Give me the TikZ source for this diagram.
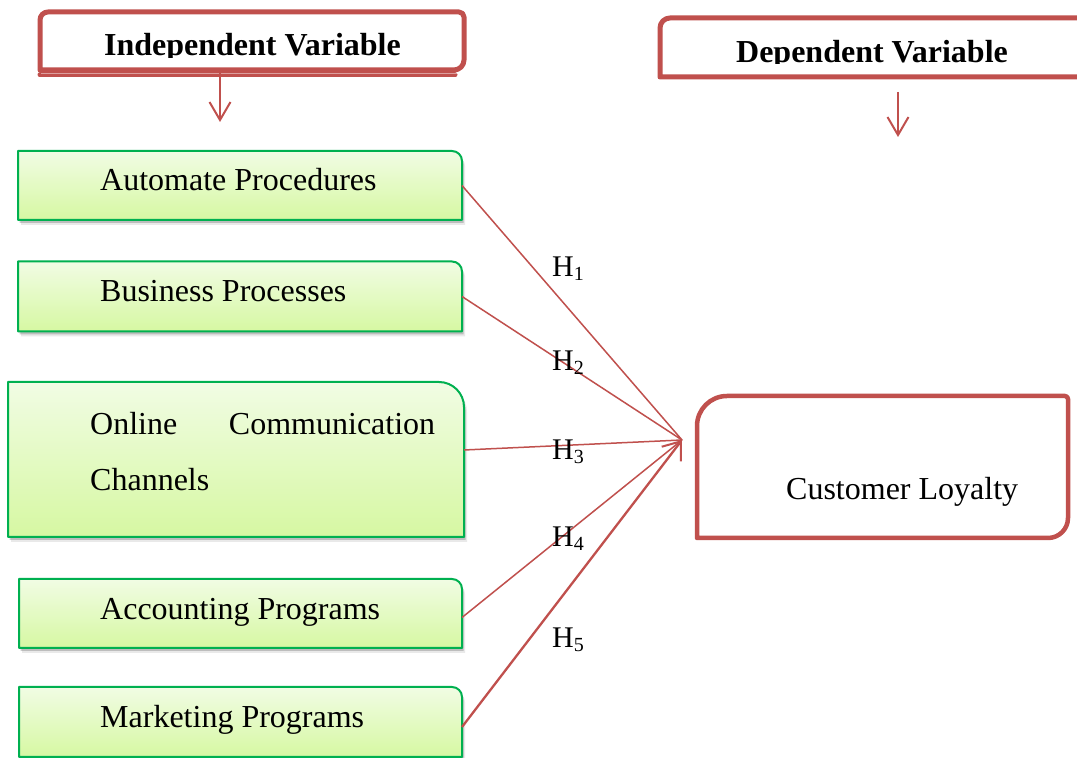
\documentclass[tikz,border=0pt]{standalone}
\usepackage{fontspec}
\setmainfont{Liberation Serif}
\usetikzlibrary{arrows.meta,shadows,calc}

\definecolor{accentred}{HTML}{C0504D}
\definecolor{boxgreen}{HTML}{00B050}
\definecolor{greentop}{HTML}{F1FCE4}
\definecolor{greenbot}{HTML}{D6F8A2}

\tikzset{
  frame/.style={rectangle, draw=none, inner sep=0pt, outer sep=0pt},
  greenfill/.style={draw=boxgreen, line width=2pt, line join=round,
    top color=greentop, bottom color=greenbot,
    drop shadow={shadow xshift=1.5pt, shadow yshift=-3pt, opacity=0.28, fill=black!70},
    drop shadow={shadow xshift=3pt, shadow yshift=-5pt, opacity=0.12, fill=black!70}},
  redframe/.style={draw=accentred, line width=5pt, line join=round},
  itemtext/.style={inner sep=0pt, font=\fontsize{32}{56}\selectfont},
  headtext/.style={inner sep=0pt, font=\fontsize{32}{38}\selectfont\bfseries},
  hyplabel/.style={inner sep=0pt, anchor=base west, font=\fontsize{30}{36}\selectfont},
  link/.style={draw=accentred, line width=1.5pt},
  hdrarrow/.style={draw=accentred, line width=2pt,
    -{Straight Barb[length=18pt, width=21pt, line width=2pt]}},
}

% green item box: square corners except a rounded top-right corner
\newcommand\greenframe[2]{%
  \path[greenfill] let \p1=(#1.south west), \p2=(#1.north east) in
    (\x1,\y1) -- (\x1,\y2) -- ({\x2-#2pt},\y2)
    arc[start angle=90, end angle=0, radius=#2pt] -- (\x2,\y1) -- cycle;}

% hypothesis label with a lowered index
\newcommand\hyp[1]{H\raisebox{-0.12em}{\fontsize{20}{24}\selectfont #1}}

\begin{document}
\begin{tikzpicture}[x=1pt, y=1pt]
\useasboundingbox (0,0) rectangle (1077,758);
\fill[white] (0,0) rectangle (1077,758);
\clip (0,0) rectangle (1077,758);

% ---- box geometry ----
\node[frame, minimum width=424pt, minimum height=58pt] (iv) at (252,717) {};
\node[frame, minimum width=440pt, minimum height=59pt] (dv) at (880,710.5) {};
\node[frame, minimum width=444pt, minimum height=69pt] (b1) at (240,572.5) {};
\node[frame, minimum width=444pt, minimum height=70pt] (b2) at (240,461.5) {};
\node[frame, minimum width=456pt, minimum height=155pt] (b3) at (236,298.5) {};
\node[frame, minimum width=443pt, minimum height=69pt] (b4) at (240.5,144.5) {};
\node[frame, minimum width=443pt, minimum height=70pt] (b5) at (240.5,36) {};
\node[frame, minimum width=371pt, minimum height=142pt] (cl) at (882.5,291) {};

% ---- heading frames ----
\path[redframe] let \p1=(iv.south west), \p2=(iv.north east) in
  (\x1,\y1) -- ({\x1},{\y2-8pt}) arc[start angle=180, end angle=90, radius=8pt]
  -- ({\x2-5pt},\y2) arc[start angle=90, end angle=0, radius=5pt]
  -- ({\x2},{\y1+10pt}) arc[start angle=0, end angle=-90, radius=10pt] -- cycle;
\draw[accentred, line width=5pt, line cap=round]
  ($(iv.south west)+(0,-5)$) -- ($(iv.south east)+(-9,-5)$);
\draw[white, opacity=0.45, line width=0.8pt]
  ($(iv.south west)+(1,-3)$) -- ($(iv.south east)+(-6,-3)$);

\path[redframe] let \p1=(dv.south west), \p2=(dv.north east) in
  (\x2,\y2) -- ({\x1+10pt},\y2) arc[start angle=90, end angle=180, radius=10pt]
  -- (\x1,\y1) -- (\x2,\y1);

% ---- item boxes ----
\greenframe{b1}{10}
\greenframe{b2}{10}
\greenframe{b3}{25}
\greenframe{b4}{10}
\greenframe{b5}{10}

% ---- outcome box ----
\path[redframe, line width=4.5pt] let \p1=(cl.south west), \p2=(cl.north east) in
  (\x1,\y1) -- ({\x1},{\y2-30pt}) arc[start angle=180, end angle=90, radius=30pt]
  -- ({\x2-3pt},\y2) arc[start angle=90, end angle=0, radius=3pt]
  -- ({\x2},{\y1+20pt}) arc[start angle=0, end angle=-90, radius=20pt] -- cycle;

% ---- heading texts (cut at the frame's text line) ----
\begin{scope}
  \clip (0,700.5) rectangle (1077,758);
  \node[headtext, anchor=base] (ivtext) at (252.5,702) {Independent Variable};
\end{scope}
\begin{scope}
  \clip (0,694) rectangle (1077,758);
  \node[headtext, anchor=base] (dvtext) at (872,695.5) {Dependent Variable};
\end{scope}

% ---- item texts ----
\node[itemtext, anchor=base west] (t1) at (100,567) {Automate Procedures};
\node[itemtext, anchor=base west] (t2) at (100,456) {Business Processes};
\node[itemtext, anchor=base west, text width=345pt, align=left] (t3) at (90,323)
  {Online\hfill Communication\\Channels};
\node[itemtext, anchor=base west] (t4) at (100,138) {Accounting Programs};
\node[itemtext, anchor=base west] (t5) at (100,30) {Marketing Programs};
\node[itemtext, anchor=base west] (t6) at (786,258) {Customer Loyalty};

% ---- heading arrows ----
\coordinate (ivhead) at (220,636);
\coordinate (dvhead) at (898,621);
\draw[hdrarrow] (iv.south -| ivhead) -- (ivhead);
\draw[hdrarrow] ($(dv.south -| dvhead)+(0,-15)$) -- (dvhead);

% ---- hypothesis links ----
\coordinate (hub) at (682,318);
\draw[link] (b1.east) -- (hub);
\draw[link] (b2.east) -- (hub);
\draw[link] ($(b3.east)+(0,9.5)$) -- (hub);
\draw[link] ($(b4.east)+(0,-4)$) -- (hub);
\draw[link, line width=2.3pt, -{Straight Barb[length=16pt, width=24pt, line width=2pt]}]
  ($(b5.east)+(0,-5)$) -- (hub);

\node[hyplabel] (h1) at (552,481) {\hyp{1}};
\node[hyplabel] (h2) at (552,387) {\hyp{2}};
\node[hyplabel] (h3) at (552,298) {\hyp{3}};
\node[hyplabel] (h4) at (552,211) {\hyp{4}};
\node[hyplabel] (h5) at (552,110) {\hyp{5}};
\end{tikzpicture}
\end{document}
